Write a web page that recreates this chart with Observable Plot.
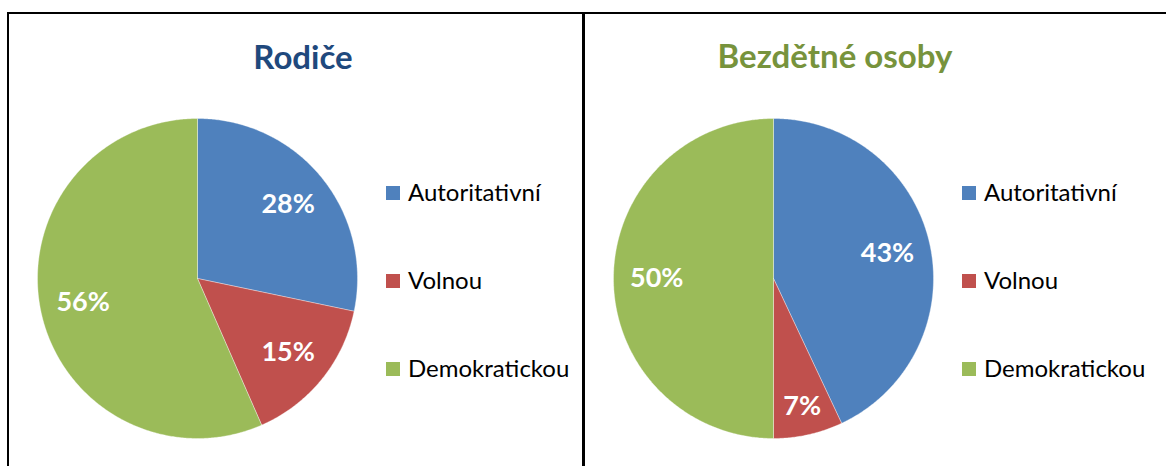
<!DOCTYPE html>
<html><head><meta charset="utf-8">
<script src="https://cdn.jsdelivr.net/npm/d3@7"></script>
<script src="https://cdn.jsdelivr.net/npm/@observablehq/plot@0.6"></script>
<style>
body{margin:0;background:#fff;font-family:Lato,"Open Sans",sans-serif;}
#wrap{position:relative;width:1166px;height:466px;overflow:hidden;background:#fff;}
.panel{position:absolute;top:0;}
.line{position:absolute;background:#000;}
.title{position:absolute;width:400px;text-align:center;font-weight:bold;font-size:33px;line-height:33px;white-space:nowrap;}
.sw{position:absolute;width:14px;height:14px;}
.lt{position:absolute;font-size:24px;line-height:24px;color:#000;white-space:nowrap;}
</style></head><body><div id="wrap"></div>
<script>
const categories = ["Autoritativní", "Volnou", "Demokratickou"];
const sliceColors = ["#4F81BD", "#C0504D", "#9BBB59"];
const parentsValues = [28, 15, 56];
const childlessValues = [43, 7, 50];
const titles = ["Rodiče", "Bezdětné osoby"];
const titleColors = ["#1F497D", "#77933C"];

const wrap = document.getElementById("wrap");
const R = 160, CY = 278;

function build(values) {
  const total = d3.sum(values);
  let acc = 0;
  const pts = [], labels = [];
  values.forEach((v, i) => {
    const a0 = acc / total * 2 * Math.PI; acc += v;
    const a1 = acc / total * 2 * Math.PI;
    pts.push({k: categories[i], x: 0, y: 0});
    const n = Math.max(2, Math.ceil((a1 - a0) / (Math.PI / 360)));
    for (let j = 0; j <= n; j++) {
      const a = a0 + (a1 - a0) * j / n;
      pts.push({k: categories[i], x: Math.sin(a), y: Math.cos(a)});
    }
    pts.push({k: categories[i], x: 0, y: 0});
    const m = (a0 + a1) / 2;
    const rr = v / total < 0.1 ? 0.82 : 0.73;
    labels.push({k: categories[i], x: rr * Math.sin(m), y: rr * Math.cos(m), text: v + "%"});
  });
  return {pts, labels};
}

function panel(values, left, width, cx, title, tColor, titleCx, titleTop, legX) {
  const {pts, labels} = build(values);
  const chart = Plot.plot({
    width, height: 466,
    margin: 0,
    style: {background: "transparent", overflow: "visible"},
    x: {domain: [-1, 1], range: [cx - R, cx + R], axis: null},
    y: {domain: [-1, 1], range: [CY + R, CY - R], axis: null},
    color: {domain: categories, range: sliceColors},
    marks: [
      Plot.line(pts, {x: "x", y: "y", z: "k", fill: "k", stroke: "#fff", strokeWidth: 0.6, strokeOpacity: 0.6}),
      Plot.text(labels, {x: "x", y: "y", text: "text", fill: "#fff", fontWeight: "bold", fontSize: 27, fontFamily: "Lato, sans-serif"})
    ]
  });
  chart.classList.add("panel");
  chart.style.left = left + "px";
  wrap.appendChild(chart);

  const t = document.createElement("div");
  t.className = "title";
  t.textContent = title;
  t.style.color = tColor;
  t.style.left = (titleCx - 200) + "px";
  t.style.top = titleTop + "px";
  wrap.appendChild(t);

  categories.forEach((c, i) => {
    const sw = document.createElement("div");
    sw.className = "sw";
    sw.style.background = sliceColors[i];
    sw.style.left = legX + "px";
    sw.style.top = (186 + i * 88) + "px";
    wrap.appendChild(sw);
    const lt = document.createElement("div");
    lt.className = "lt";
    lt.textContent = c;
    lt.style.left = (legX + 22) + "px";
    lt.style.top = (179.7 + i * 88) + "px";
    wrap.appendChild(lt);
  });
}

panel(parentsValues, 0, 583, 197, titles[0], titleColors[0], 303, 40, 386);
panel(childlessValues, 583, 583, 190, titles[1], titleColors[1], 835, 39, 962);

function line(l, t, w, h) {
  const d = document.createElement("div");
  d.className = "line";
  Object.assign(d.style, {left: l + "px", top: t + "px", width: w + "px", height: h + "px"});
  wrap.appendChild(d);
}
line(7, 11.5, 1159, 2.5);
line(7, 11.5, 2, 460);
line(582, 11.5, 2.5, 460);
</script>
</body></html>
